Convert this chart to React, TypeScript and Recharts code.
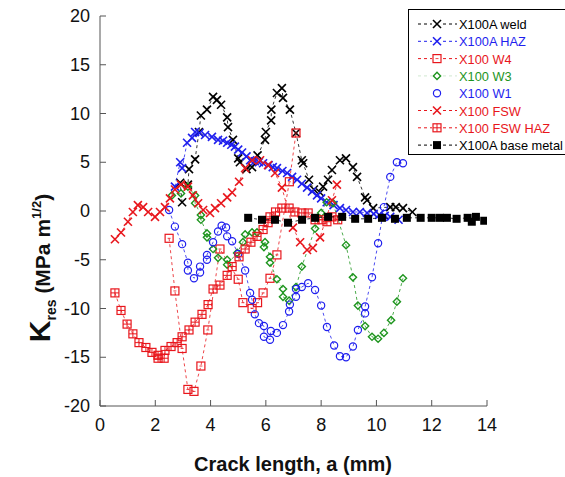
import React from "react";
import { ScatterChart, Scatter, XAxis, YAxis, Legend } from "recharts";

// X100A weld
const weldX = [2.97, 2.9, 3.18, 3.22, 3.44, 3.58, 3.65, 3.87, 4.09, 4.23, 4.38, 4.6, 4.63, 4.81, 5.0, 5.06, 5.3, 5.5, 5.7, 5.97, 6.0, 6.19, 6.2, 6.4, 6.58, 6.62, 6.87, 7.09, 7.3, 7.35, 7.56, 7.74, 7.96, 8.07, 8.25, 8.39, 8.68, 8.9, 9.15, 9.3, 9.59, 9.66, 9.88, 10.5, 10.7, 10.96, 11.3];
const weldY = [0.9, 2.9, 2.7, 4.3, 5.3, 8.1, 9.8, 10.4, 11.7, 11.4, 10.9, 9.6, 8.6, 7.3, 5.4, 5.0, 4.3, 4.5, 5.7, 7.3, 8.1, 9.3, 10.4, 12.1, 12.6, 11.6, 10.4, 8.0, 5.2, 4.9, 3.2, 2.2, 1.9, 2.5, 3.2, 4.2, 5.2, 5.4, 4.5, 3.5, 1.4, 1.1, 0.3, 0.4, 0.4, 0.3, -0.1];

// X100A HAZ
const hazX = [2.71, 2.9, 2.97, 3.15, 3.33, 3.44, 3.6, 3.8, 4.05, 4.27, 4.45, 4.6, 4.75, 4.88, 5.0, 5.14, 5.3, 5.43, 5.6, 5.75, 5.9, 6.1, 6.25, 6.4, 6.6, 6.77, 6.95, 7.13, 7.3, 7.49, 7.67, 7.85, 8.0, 8.2, 8.45, 8.68, 8.9, 9.15, 9.4, 9.66, 9.9, 10.1, 10.3, 10.5, 10.8];
const hazY = [2.5, 5.0, 4.4, 7.0, 7.5, 8.1, 8.0, 7.8, 7.6, 7.3, 7.2, 7.0, 6.8, 6.6, 6.3, 6.0, 5.6, 5.2, 5.1, 5.0, 4.9, 4.7, 4.5, 4.4, 4.1, 3.9, 3.5, 3.2, 2.8, 2.4, 2.0, 1.6, 1.3, 0.9, 0.6, 0.3, 0.1, -0.1, -0.1, -0.2, -0.3, -0.4, -0.5, -0.6, -0.9];

// X100 W4
const w4X = [2.5, 2.71, 2.97, 3.18, 3.4, 3.65, 3.9, 4.34, 5.0, 5.17, 5.5, 5.7, 5.9, 6.15, 6.4, 6.85, 7.09];
const w4Y = [-2.8, -8.2, -14.1, -18.3, -18.5, -15.9, -12.2, -3.9, -7.0, -9.4, -10.0, -9.4, -8.4, -6.9, -4.5, 3.0, 8.0];

// X100 W3
const w3X = [2.6, 2.93, 3.18, 3.44, 3.44, 3.65, 3.65, 3.87, 3.87, 4.09, 4.27, 4.6, 4.6, 4.96, 5.17, 5.25, 5.5, 5.68, 5.93, 5.97, 6.15, 6.15, 6.4, 6.62, 6.62, 6.84, 7.09, 7.3, 7.78, 8.0, 8.2, 8.43, 8.9, 9.15, 9.33, 9.59, 9.84, 10.06, 10.27, 10.53, 10.74, 10.96];
const w3Y = [1.6, 1.8, 2.5, 1.6, 0.8, -0.4, -0.9, -2.3, -2.7, -3.9, -4.8, -5.0, -5.5, -4.3, -3.2, -2.4, -2.2, -2.2, -3.7, -3.2, -4.7, -5.3, -7.0, -8.0, -8.8, -9.2, -7.8, -5.7, -1.8, -0.2, 0.9, 0.8, -3.5, -6.8, -9.7, -11.8, -12.9, -13.1, -12.5, -11.2, -9.3, -6.9];

// X100 W1
const w1X = [2.5, 2.71, 2.97, 3.18, 3.18, 3.4, 3.62, 3.62, 3.87, 3.87, 4.09, 4.27, 4.4, 4.56, 4.6, 4.78, 5.0, 5.25, 5.43, 5.5, 5.6, 5.75, 5.93, 5.93, 6.15, 6.18, 6.4, 6.62, 6.84, 6.87, 7.09, 7.09, 7.3, 7.53, 7.78, 8.0, 8.21, 8.47, 8.68, 8.9, 9.15, 9.33, 9.59, 9.59, 9.84, 10.06, 10.27, 10.5, 10.74, 10.96];
const w1Y = [0.1, -1.6, -3.4, -5.3, -6.1, -6.9, -6.3, -5.7, -5.0, -4.5, -3.2, -2.1, -1.5, -1.7, -2.6, -3.1, -4.4, -6.1, -8.4, -9.1, -10.6, -11.5, -11.8, -12.9, -13.2, -12.3, -12.5, -11.7, -10.3, -9.6, -8.8, -8.0, -7.8, -7.4, -8.1, -9.7, -11.9, -13.8, -14.9, -15.0, -13.9, -12.2, -10.5, -9.8, -6.8, -3.3, 0.4, 3.5, 5.0, 4.9];

// X100 FSW
const fswX = [0.54, 0.76, 1.01, 1.19, 1.37, 1.56, 1.74, 1.99, 2.17, 2.35, 2.53, 2.71, 2.93, 3.18, 3.36, 3.55, 3.73, 3.98, 4.16, 4.38, 4.6, 4.78, 5.03, 5.25, 5.5, 5.79, 6.08, 6.33, 6.58, 6.98, 7.24, 7.49, 7.7, 7.96, 8.39, 8.57];
const fswY = [-2.9, -2.2, -1.1, -0.1, 0.6, 0.4, -0.1, -0.6, -0.1, 0.4, 1.3, 2.2, 2.7, 2.5, 1.6, 0.8, 0.1, -0.2, 0.3, 0.8, 1.4, 1.9, 3.0, 4.4, 5.2, 5.2, 4.7, 3.9, 2.4, -1.7, -3.2, -4.0, -3.8, -2.7, 1.1, 2.7];

// X100 FSW HAZ
const fswHazX = [0.54, 0.76, 0.98, 1.19, 1.41, 1.66, 1.88, 2.1, 2.1, 2.32, 2.35, 2.57, 2.79, 2.97, 3.22, 3.44, 3.69, 3.91, 4.09, 4.34, 4.6, 4.78, 5.03, 5.25, 5.46, 5.68, 5.9, 6.08, 6.15, 6.35, 6.58, 6.84, 7.05, 7.3, 7.53, 7.78, 8.03, 8.21, 8.39, 8.6];
const fswHazY = [-8.4, -10.2, -11.6, -12.6, -13.5, -14.0, -14.5, -14.8, -15.1, -15.1, -14.3, -13.9, -13.5, -12.9, -12.2, -11.4, -10.6, -9.6, -8.0, -7.6, -6.6, -5.7, -4.7, -3.9, -3.2, -2.6, -1.9, -1.2, -0.6, -0.1, 0.3, 0.3, -0.1, -0.2, -0.2, -0.9, -0.9, -1.1, -0.6, -0.9];

// X100A base metal
const baseX = [5.36, 5.86, 6.33, 6.8, 7.31, 7.78, 8.25, 8.76, 9.23, 9.7, 10.2, 10.67, 11.1, 11.6, 12.0, 12.3, 12.55, 12.9, 13.3, 13.45, 13.6, 13.9];
const baseY = [-0.7, -0.9, -0.9, -1.2, -0.9, -0.7, -0.6, -0.6, -0.8, -0.8, -0.7, -0.8, -0.7, -0.7, -0.7, -0.7, -0.7, -0.8, -0.7, -1.1, -0.6, -1.0];

const xTicks = [0, 2, 4, 6, 8, 10, 12, 14];
const yTicks = [-20, -15, -10, -5, 0, 5, 10, 15, 20];

const BLACK = "#000000";
const BLUE = "#1f1fee";
const RED = "#e8161c";
const GREEN = "#1e951e";
const FONT = "'Liberation Sans', Arial, sans-serif";

const toPoints = (xs: number[], ys: number[]) => xs.map((x, i) => ({ x, y: ys[i] }));

type Mark = "cross" | "sqLine" | "sqGrid" | "diamond" | "circle" | "sqFill";

function drawMark(kind: Mark, color: string, cx: number, cy: number, key?: string) {
  const r = 4;
  switch (kind) {
    case "cross":
      return (
        <g key={key}>
          <line x1={cx - r} y1={cy - r} x2={cx + r} y2={cy + r} stroke={color} strokeWidth={1.6} />
          <line x1={cx - r} y1={cy + r} x2={cx + r} y2={cy - r} stroke={color} strokeWidth={1.6} />
        </g>
      );
    case "sqLine":
      return (
        <g key={key}>
          <rect x={cx - r} y={cy - r} width={2 * r} height={2 * r} fill="none" stroke={color} strokeWidth={1.2} />
          <line x1={cx - 1.5} y1={cy} x2={cx + 1.5} y2={cy} stroke={color} strokeWidth={0.8} />
        </g>
      );
    case "sqGrid":
      return (
        <g key={key}>
          <rect x={cx - r} y={cy - r} width={2 * r} height={2 * r} fill="none" stroke={color} strokeWidth={1.2} />
          <line x1={cx - r} y1={cy} x2={cx + r} y2={cy} stroke={color} strokeWidth={1} />
          <line x1={cx} y1={cy - r} x2={cx} y2={cy + r} stroke={color} strokeWidth={1} />
        </g>
      );
    case "diamond":
      return (
        <polygon
          key={key}
          points={`${cx},${cy - 3.6} ${cx + 3.6},${cy} ${cx},${cy + 3.6} ${cx - 3.6},${cy}`}
          fill="none"
          stroke={color}
          strokeWidth={1.4}
        />
      );
    case "circle":
      return <circle key={key} cx={cx} cy={cy} r={3.6} fill="none" stroke={color} strokeWidth={1.2} />;
    default:
      return <rect key={key} x={cx - r} y={cy - r} width={2 * r} height={2 * r} fill={color} />;
  }
}

const series: { name: string; data: { x: number; y: number }[]; color: string; mark: Mark; legendLine: number }[] = [
  { name: "X100A weld", data: toPoints(weldX, weldY), color: BLACK, mark: "cross", legendLine: 1 },
  { name: "X100A HAZ", data: toPoints(hazX, hazY), color: BLUE, mark: "cross", legendLine: 1 },
  { name: "X100 W4", data: toPoints(w4X, w4Y), color: RED, mark: "sqLine", legendLine: 1 },
  { name: "X100 W3", data: toPoints(w3X, w3Y), color: GREEN, mark: "diamond", legendLine: 0.2 },
  { name: "X100 W1", data: toPoints(w1X, w1Y), color: BLUE, mark: "circle", legendLine: 0 },
  { name: "X100 FSW", data: toPoints(fswX, fswY), color: RED, mark: "cross", legendLine: 1 },
  { name: "X100 FSW HAZ", data: toPoints(fswHazX, fswHazY), color: RED, mark: "sqGrid", legendLine: 1 },
  { name: "X100A base metal", data: toPoints(baseX, baseY), color: BLACK, mark: "sqFill", legendLine: 1 },
];

const AXIS = "#555555";

const BottomTick = (p: any) => (
  <g>
    <line x1={p.x} y1={p.y} x2={p.x} y2={p.y - 6} stroke={AXIS} strokeWidth={1} />
    <text x={p.x} y={p.y + 25} textAnchor="middle" fontSize={18} fontFamily={FONT} fill="#111">
      {p.payload.value}
    </text>
  </g>
);
const TopTick = (p: any) => <line x1={p.x} y1={p.y} x2={p.x} y2={p.y + 6} stroke={AXIS} strokeWidth={1} />;
const LeftTick = (p: any) => (
  <g>
    <line x1={p.x} y1={p.y} x2={p.x + 6} y2={p.y} stroke={AXIS} strokeWidth={1} />
    <text x={p.x - 10} y={p.y + 6} textAnchor="end" fontSize={18} fontFamily={FONT} fill="#111">
      {p.payload.value}
    </text>
  </g>
);
const RightTick = (p: any) => <line x1={p.x} y1={p.y} x2={p.x - 6} y2={p.y} stroke={AXIS} strokeWidth={1} />;

const LegendBox = () => (
  <div style={{ width: 160, height: 146, border: "1px solid #000", background: "#fff", boxSizing: "border-box" }}>
    <svg width={160} height={146} style={{ display: "block" }}>
      {series.map((s, i) => {
        const y = 14 + i * 17.3;
        return (
          <g key={s.name}>
            {s.legendLine > 0 && (
              <>
                <line x1={9} y1={y} x2={23} y2={y} stroke={s.color} strokeWidth={1} strokeDasharray="3 3" opacity={s.legendLine} />
                <line x1={34} y1={y} x2={48} y2={y} stroke={s.color} strokeWidth={1} strokeDasharray="3 3" opacity={s.legendLine} />
              </>
            )}
            {drawMark(s.mark, s.color, 28, y)}
            <text x={50} y={y + 5} fontSize={12.8} fontFamily={FONT} fill={s.color}>
              {s.name}
            </text>
          </g>
        );
      })}
    </svg>
  </div>
);

export default function App() {
  return (
    <div style={{ position: "absolute", left: 0, top: 0, width: 565, height: 477, background: "#fff", overflow: "hidden" }}>
      <ScatterChart width={565} height={477} margin={{ top: 16, right: 78, bottom: 11, left: 0 }}>
        <XAxis
          xAxisId="b"
          type="number"
          dataKey="x"
          domain={[0, 14]}
          ticks={xTicks}
          height={60}
          tickSize={0}
          tickMargin={0}
          tick={BottomTick}
          axisLine={{ stroke: AXIS }}
          allowDataOverflow
          label={{
            content: () => (
              <text x={293} y={471} textAnchor="middle" fontSize={20} fontWeight="bold" fontFamily={FONT} fill="#111">
                Crack length, a (mm)
              </text>
            ),
          }}
        />
        <XAxis
          xAxisId="t"
          orientation="top"
          type="number"
          domain={[0, 14]}
          ticks={xTicks}
          height={0}
          tickSize={0}
          tickMargin={0}
          tick={TopTick}
          axisLine={{ stroke: AXIS }}
          allowDataOverflow
        />
        <YAxis
          yAxisId="l"
          type="number"
          dataKey="y"
          domain={[-20, 20]}
          ticks={yTicks}
          width={100}
          tickSize={0}
          tickMargin={0}
          tick={LeftTick}
          axisLine={{ stroke: AXIS }}
          allowDataOverflow
          label={{
            content: () => (
              <text
                x={50}
                y={268}
                transform="rotate(-90, 50, 268)"
                textAnchor="middle"
                fontWeight="bold"
                fontFamily={FONT}
                fill="#111"
              >
                <tspan fontSize={30}>K</tspan>
                <tspan fontSize={14} dy={6}>res</tspan>
                <tspan fontSize={21} dy={-6}> (MPa m</tspan>
                <tspan fontSize={13} dy={-9}>1/2</tspan>
                <tspan fontSize={21} dy={9}>)</tspan>
              </text>
            ),
          }}
        />
        <YAxis
          yAxisId="r"
          orientation="right"
          type="number"
          domain={[-20, 20]}
          ticks={yTicks}
          width={0}
          tickSize={0}
          tickMargin={0}
          tick={RightTick}
          axisLine={{ stroke: AXIS }}
          allowDataOverflow
        />
        {series.map((s) => (
          <Scatter
            key={s.name}
            name={s.name}
            data={s.data}
            xAxisId="b"
            yAxisId="l"
            isAnimationActive={false}
            line={{ stroke: s.color, strokeWidth: 0.8, strokeDasharray: "3 3" }}
            lineType="joint"
            shape={(p: any) => drawMark(s.mark, s.color, p.cx, p.cy)}
          />
        ))}
        <Legend
          layout="vertical"
          align="center"
          verticalAlign="middle"
          wrapperStyle={{ left: 408, top: 9, width: 160, height: 146 }}
          content={() => <LegendBox />}
        />
      </ScatterChart>
    </div>
  );
}
